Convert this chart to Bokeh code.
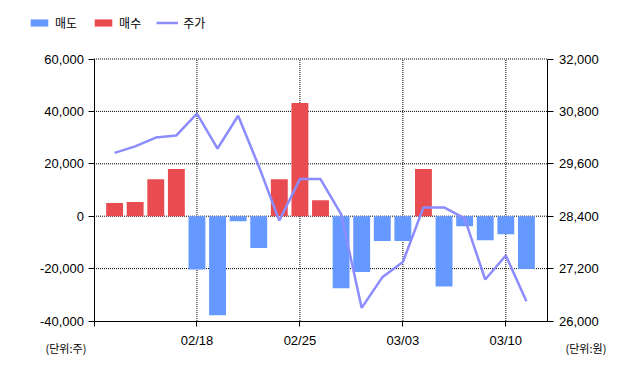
from bokeh.plotting import figure
from bokeh.models import (Range1d, LinearAxis, FixedTicker, NumeralTickFormatter,
                          Legend, LegendItem, Label, ColumnDataSource)
from bokeh.embed import file_html
from bokeh.resources import INLINE

dates = ["02/12", "02/13", "02/14", "02/17", "02/18", "02/19", "02/20", "02/21", "02/24",
         "02/25", "02/26", "02/27", "02/28", "03/02", "03/03", "03/04", "03/05", "03/06",
         "03/09", "03/10", "03/11"]
sell = [0, 0, 0, 0, -20300, -37800, -1900, -12100, 0, 0, 0, -27500, -21300, -9500, -9500,
        0, -26800, -3800, -9200, -6900, -20200]
buy = [5000, 5400, 14100, 18000, 0, 0, 0, 0, 14100, 43200, 6100, 0, 0, 0, 0,
       18000, 0, 0, 0, 0, 0]
price = [29850, 30000, 30200, 30250, 30750, 29950, 30700, 29550, 28300, 29250, 29250, 28450,
         26300, 27000, 27350, 28600, 28600, 28350, 26950, 27500, 26450]
tick_dates = ["02/18", "02/25", "03/03", "03/10"]
left_ticks = [-40000, -20000, 0, 20000, 40000, 60000]
right_ticks = [26000, 27200, 28400, 29600, 30800, 32000]

W, H = 632, 360
# plot-area placement on the canvas (pixels)
PL, PR, PT, PB = 93.5, 546.5, 58.5, 320.5

xs = list(range(1, len(dates) + 1))
x_lo, x_hi = 0, len(dates) + 1
ppx = (PR - PL) / (x_hi - x_lo)
xr = Range1d(x_lo - PL / ppx, x_hi + (W - PR) / ppx)

def yrange(lo, hi):
    k = (PB - PT) / (hi - lo)
    return Range1d(lo - (H - PB) / k, hi + PT / k)

src = ColumnDataSource(dict(x=xs, sell=sell, buy=buy, price=price))

p = figure(width=W, height=H, output_backend="svg", toolbar_location=None,
           x_range=xr, y_range=yrange(left_ticks[0], left_ticks[-1]),
           x_axis_location=None, y_axis_location=None,
           min_border_left=0, min_border_right=0, min_border_top=0, min_border_bottom=0)
p.outline_line_color = None
p.background_fill_color = "white"
p.extra_y_ranges = {"price": yrange(right_ticks[0], right_ticks[-1])}
p.grid.visible = False

tick_font = "Liberation Sans"

def style(ax, out, standoff):
    ax.major_tick_out = out
    ax.major_tick_in = 0
    ax.minor_tick_out = 0
    ax.minor_tick_in = 0
    ax.major_label_standoff = standoff
    ax.axis_line_color = "black"
    ax.major_tick_line_color = "black"
    ax.major_label_text_font = tick_font
    ax.major_label_text_font_size = "13px"
    ax.major_label_text_color = "black"

# x axis
tick_x = [xs[dates.index(d)] for d in tick_dates]
overrides = {x_lo: ""}
for d, t in zip(tick_dates, tick_x):
    overrides[t] = d
xa = LinearAxis(ticker=FixedTicker(ticks=[x_lo] + tick_x), fixed_location=left_ticks[0],
                bounds=(x_lo, x_hi), major_label_overrides=overrides)
style(xa, 5, 7)
p.add_layout(xa, "below")

# left axis
la = LinearAxis(ticker=FixedTicker(ticks=left_ticks), formatter=NumeralTickFormatter(format="0,0"),
                fixed_location=x_lo, bounds=(left_ticks[0], left_ticks[-1]))
style(la, 6, 4)
p.add_layout(la, "left")

# right axis
ra = LinearAxis(y_range_name="price", ticker=FixedTicker(ticks=right_ticks),
                formatter=NumeralTickFormatter(format="0,0"),
                fixed_location=x_hi, bounds=(right_ticks[0], right_ticks[-1]))
style(ra, 6, 6)
p.add_layout(ra, "right")

# dotted grid lines at the tick positions, limited to the plot area
gy = [t for t in left_ticks if t != left_ticks[0]]
p.segment(x0=[x_lo] * len(gy), x1=[x_hi] * len(gy), y0=gy, y1=gy,
          line_color="black", line_dash="1 1", line_width=1)
p.segment(x0=tick_x, x1=tick_x, y0=[left_ticks[0]] * len(tick_x),
          y1=[left_ticks[-1]] * len(tick_x),
          line_color="black", line_dash="1 1", line_width=1)

r_sell = p.vbar(x="x", top="sell", bottom=0, width=0.82, source=src,
                fill_color="#6699ff", line_color=None)
r_buy = p.vbar(x="x", top="buy", bottom=0, width=0.82, source=src,
               fill_color="#e84c50", line_color=None)
r_line = p.line(x="x", y="price", source=src, y_range_name="price",
                line_color="#8c8cff", line_width=2.5)

legend = Legend(items=[LegendItem(label="매도", renderers=[r_sell]),
                       LegendItem(label="매수", renderers=[r_buy]),
                       LegendItem(label="주가", renderers=[r_line])],
                orientation="horizontal", location=(28, H - 31))
legend.border_line_color = None
legend.background_fill_alpha = 0
legend.padding = 0
legend.margin = 0
legend.spacing = 15
legend.glyph_width = 22
legend.glyph_height = 9
legend.label_height = 12
legend.label_standoff = 5
legend.label_text_font = "Noto Sans CJK KR"
legend.label_text_font_size = "12px"
legend.label_text_color = "black"
legend.label_text_baseline = "middle"
p.add_layout(legend, "center")

lab_font = "Noto Sans CJK KR"
p.add_layout(Label(x=45, y=H - 347, x_units="screen", y_units="screen", text="(단위:주)",
                   text_font=lab_font, text_font_size="11px", text_baseline="middle",
                   text_color="black"))
p.add_layout(Label(x=565, y=H - 347, x_units="screen", y_units="screen", text="(단위:원)",
                   text_font=lab_font, text_font_size="11px", text_baseline="middle",
                   text_color="black"))

open("out.html", "w").write(file_html(p, INLINE))
